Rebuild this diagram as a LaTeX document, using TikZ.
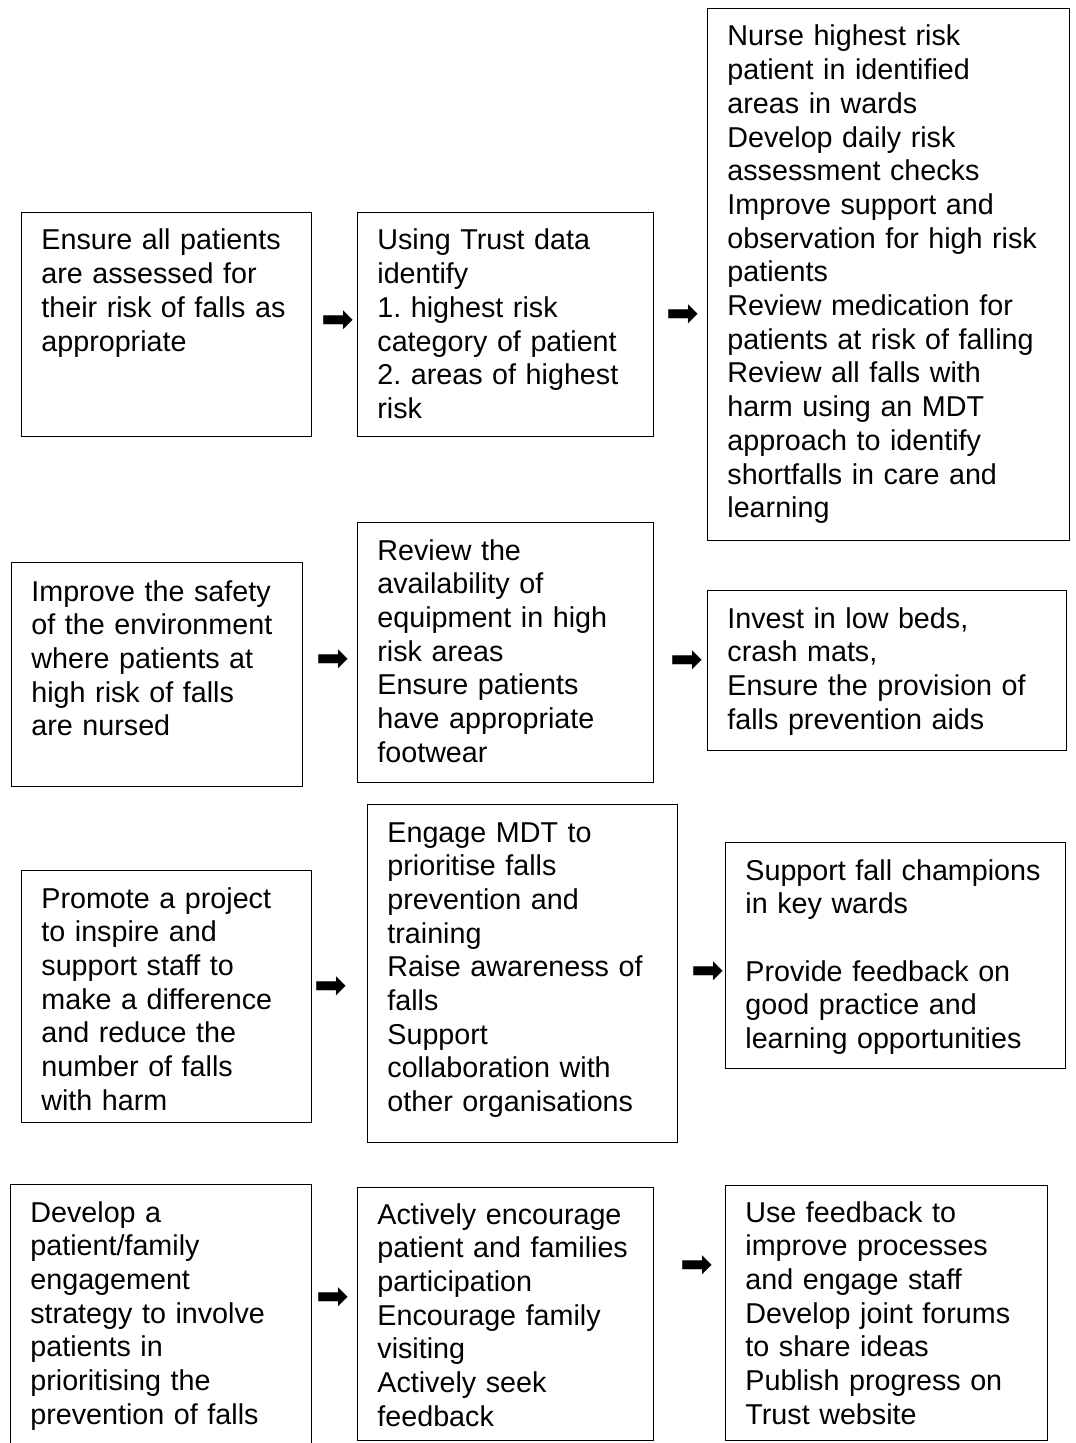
\documentclass[tikz,border=0pt]{standalone}
\usepackage{fontspec}
\setmainfont{Liberation Sans}
\newfontfamily\arrowfont{DejaVu Sans}

\begin{document}
\begin{tikzpicture}[
    x=0.5pt, y=-0.5pt,
    box/.style={rectangle, draw, line width=0.7pt, anchor=north west, inner sep=0pt},
    txt/.style={anchor=base west, inner sep=0pt, text width=178pt, align=left, font=\fontsize{14.35pt}{16.85pt}\selectfont\frenchspacing},
    arr/.style={inner sep=0pt, font=\arrowfont\fontsize{19.5pt}{19.5pt}\selectfont}
]
\useasboundingbox (0,0) rectangle (1075,1443);

% ================= ROW 1 =================
\node[box, minimum width=145pt, minimum height=112pt] (assess) at (21,212) {};
\node[txt] (assess-t) at (41,250) {Ensure all patients\\ are assessed for\\ their risk of falls as\\ appropriate};

\node[box, minimum width=148pt, minimum height=112pt] (data) at (357,212) {};
\node[txt] (data-t) at (377,250) {Using Trust data\\ identify\\ 1. highest risk\\ category of patient\\ 2. areas of highest\\ risk};

\node[box, minimum width=181pt, minimum height=266pt] (nurse) at (707,8) {};
\node[txt] (nurse-t) at (727,46) {Nurse highest risk\\ patient in identified\\ areas in wards\\ Develop daily risk\\ assessment checks\\ Improve support and\\ observation for high risk\\ patients\\ Review medication for\\ patients at risk of falling\\ Review all falls with\\ harm using an MDT\\ approach to identify\\ shortfalls in care and\\ learning};

\node[arr] (a11) at (338,322) {➡};
\node[arr] (a12) at (683,316) {➡};

% ================= ROW 2 =================
\node[box, minimum width=145.5pt, minimum height=112pt] (safety) at (11,562) {};
\node[txt] (safety-t) at (31,601) {Improve the safety\\ of the environment\\ where patients at\\ high risk of falls\\ are nursed};

\node[box, minimum width=148pt, minimum height=130pt] (equip) at (357,522) {};
\node[txt] (equip-t) at (377,560) {Review the\\ availability of\\ equipment in high\\ risk areas\\ Ensure patients\\ have appropriate\\ footwear};

\node[box, minimum width=179.5pt, minimum height=80pt] (beds) at (707,590) {};
\node[txt] (beds-t) at (727,628) {Invest in low beds,\\ crash mats,\\ Ensure the provision of\\ falls prevention aids};

\node[arr] (a21) at (333,661) {➡};
\node[arr] (a22) at (687,662) {➡};

% ================= ROW 3 =================
\node[box, minimum width=145pt, minimum height=126pt] (project) at (21,870) {};
\node[txt] (project-t) at (41,908) {Promote a project\\ to inspire and\\ support staff to\\ make a difference\\ and reduce the\\ number of falls\\ with harm};

\node[box, minimum width=155pt, minimum height=169pt] (engage) at (367,804) {};
\node[txt] (engage-t) at (387,842) {Engage MDT to\\ prioritise falls\\ prevention and\\ training\\ Raise awareness of\\ falls\\ Support\\ collaboration with\\ other organisations};

\node[box, minimum width=170pt, minimum height=113pt] (champ) at (725,842) {};
\node[txt] (champ-t) at (745,880) {Support fall champions\\ in key wards\\[16.85pt] Provide feedback on\\ good practice and\\ learning opportunities};

\node[arr] (a31) at (331,988) {➡};
\node[arr] (a32) at (708,973) {➡};

% ================= ROW 4 =================
\node[box, minimum width=150.5pt, minimum height=140pt] (family) at (10,1184) {};
\node[txt] (family-t) at (30,1222) {Develop a\\ patient/family\\ engagement\\ strategy to involve\\ patients in\\ prioritising the\\ prevention of falls};

\node[box, minimum width=148pt, minimum height=126.5pt] (visit) at (357,1187) {};
\node[txt] (visit-t) at (377,1224) {Actively encourage\\ patient and families\\ participation\\ Encourage family\\ visiting\\ Actively seek\\ feedback};

\node[box, minimum width=161pt, minimum height=127.5pt] (publish) at (725,1185) {};
\node[txt] (publish-t) at (745,1222) {Use feedback to\\ improve processes\\ and engage staff\\ Develop joint forums\\ to share ideas\\ Publish progress on\\ Trust website};

\node[arr] (a41) at (333,1299) {➡};
\node[arr] (a42) at (697,1267) {➡};

\end{tikzpicture}
\end{document}
